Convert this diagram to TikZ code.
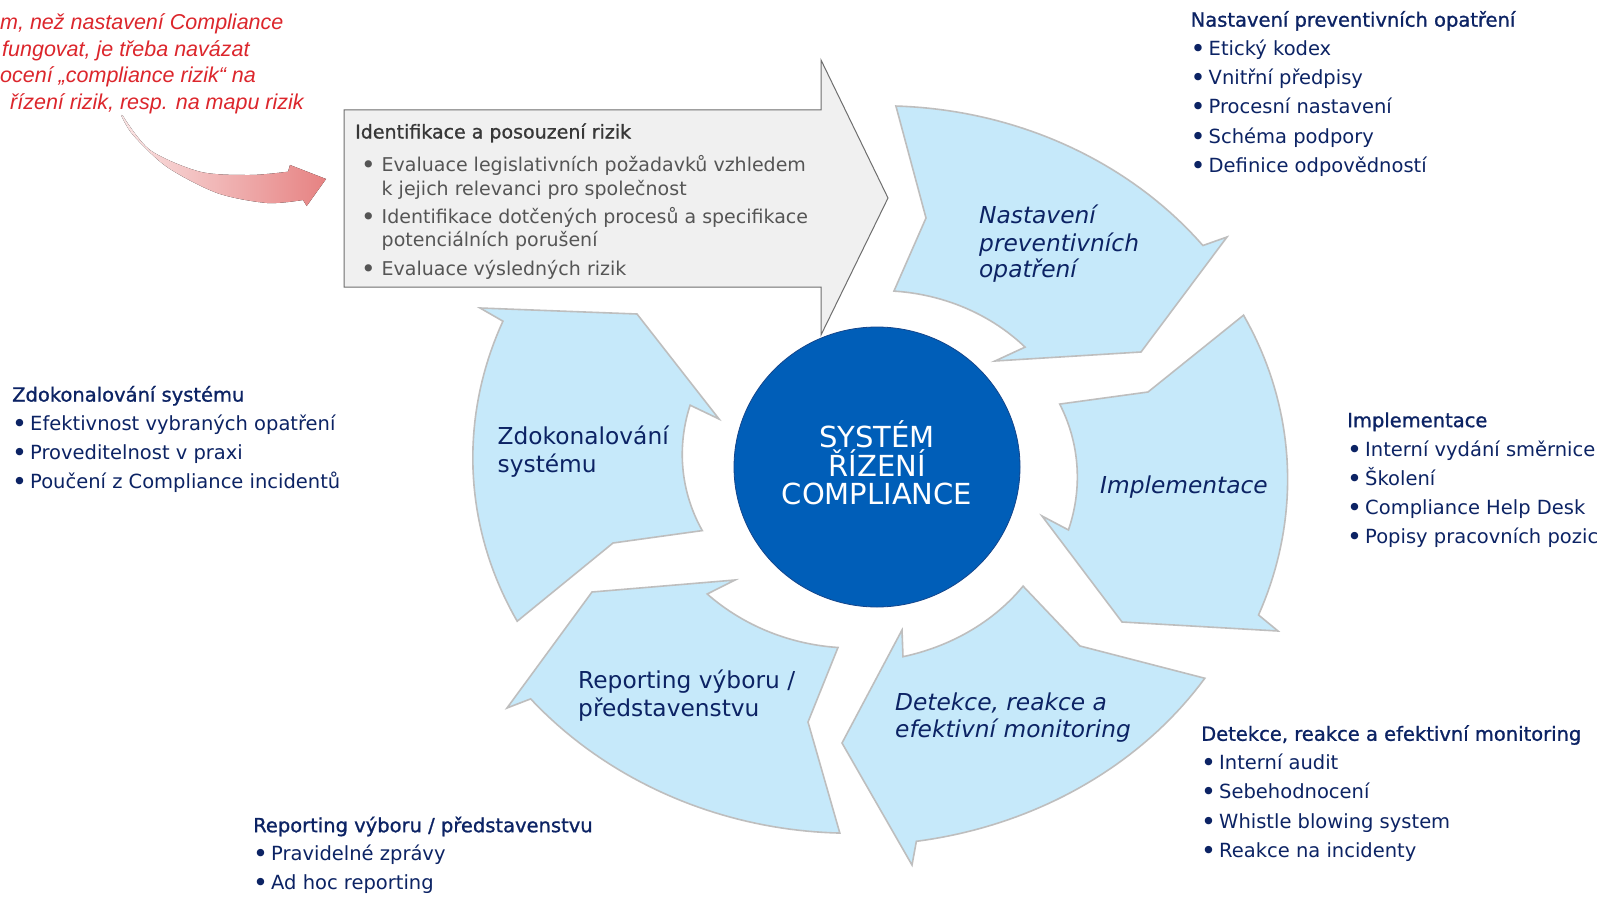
\documentclass[tikz,border=0pt]{standalone}
\usepackage{fontspec}
\setmainfont{DejaVu Sans}
\newfontfamily\headfont[FakeBold=1]{DejaVu Sans}
\newfontfamily\notefont{Liberation Sans}
\usepackage{tikz}
\usetikzlibrary{positioning,shapes.geometric}

\definecolor{navy}{RGB}{12,35,100}
\definecolor{wheelfill}{RGB}{198,233,250}
\definecolor{wheeledge}{RGB}{190,190,190}
\definecolor{coreblue}{RGB}{0,94,184}
\definecolor{coreedge}{RGB}{20,70,140}
\definecolor{boxfill}{RGB}{240,240,240}
\definecolor{boxedge}{RGB}{110,110,110}
\definecolor{boxtext}{RGB}{85,85,85}
\definecolor{boxhead}{RGB}{55,55,55}
\definecolor{notered}{RGB}{220,38,44}

\newcommand{\blt}{\makebox[18pt][l]{\raisebox{-2pt}{\scalebox{1.3}{\textbullet}}}}
\newcommand{\gblt}{\hspace*{6pt}\makebox[20.5pt][l]{\raisebox{-2pt}{\scalebox{1.3}{\textbullet}}}}
\newcommand{\gcont}{\hspace*{26.5pt}}

\tikzset{
  rimout/.style n args={4}{insert path={plot[domain=#1:#2,samples=40]
      ({877+rout(\x)*blend(\x,#1,#2,#3,#4)*cos(\x)},{467-rout(\x)*blend(\x,#1,#2,#3,#4)*sin(\x)})}},
  rimin/.style n args={4}{insert path={-- plot[domain=#1:#2,samples=40]
      ({877+rin(\x)*blend(\x,#1,#2,#3,#4)*cos(\x)},{467-rin(\x)*blend(\x,#1,#2,#3,#4)*sin(\x)})}}
}

\begin{document}
\begin{tikzpicture}[x=1pt,y=-1pt,line join=miter,
    declare function={
      rout(\x)=410*3.65/sqrt((3.65*cos(\x))^2+(4.10*sin(\x))^2);
      rin(\x)=204*1.82/sqrt((1.82*cos(\x))^2+(2.04*sin(\x))^2);
      blend(\x,\angA,\angB,\facA,\facB)=\facA+(\facB-\facA)*(\x-\angA)/(\angB-\angA);
    }]
    \tikzstyle{cyc}=[fill=wheelfill,draw=wheeledge,line width=1.6pt]
    \tikzstyle{riskarrow}=[fill=boxfill,draw=boxedge,line width=1pt]
    \tikzstyle{core}=[ellipse,minimum width=286pt,minimum height=280pt,inner sep=0pt,fill=coreblue,draw=coreedge,line width=0.8pt]
    \tikzstyle{list}=[inner sep=0pt,anchor=north west,align=left,text=navy,font=\fontsize{19.5}{29.1}\selectfont]
    \tikzstyle{lbl}=[inner sep=0pt,anchor=north west,align=left,text=navy,font=\fontsize{23.3}{26}\selectfont]
    \tikzstyle{ilbl}=[lbl,font=\fontsize{23.3}{26}\selectfont\itshape]
    \tikzstyle{redgrad}=[left color={rgb,255:red,250;green,228;blue,228},right color={rgb,255:red,230;green,130;blue,130}]

    \fill[white] (0,0) rectangle (1602,896);
    \useasboundingbox (0,0) rectangle (1602,896);

    % wheel of five arrows
    \draw[cyc] [rimout={87}{34.2}{0.99}{1.0}] -- (1227,237) -- (1141,352) -- (995,361)
        [rimin={39}{84.5}{0.98}{0.97}] -- (926,218) -- cycle;
    \draw[cyc] [rimout={22.5}{-21.2}{0.986}{1.015}] -- (1278,631) -- (1122,622) -- (1042,516)
        [rimin={-18.2}{19}{1.0}{0.96}] -- (1148,392) -- cycle;
    \draw[cyc] [rimout={-32.8}{-84}{0.987}{1.03}] -- (912,865) -- (842,743) -- (902,630)
        [rimin={-82.2}{-39.2}{1.05}{0.97}] -- (1080,646) -- cycle;
    \draw[cyc] [rimout={-95.8}{-146.2}{1.007}{1.057}] -- (507,708) -- (592,592) -- (735,580)
        [rimin={-143.2}{-102.2}{1.086}{1.01}] -- (808,722) -- cycle;
    \draw[cyc] [rimout={203.2}{158.7}{0.974}{0.996}] -- (480,308) -- (637,314) -- (719,419)
        [rimin={161.7}{200}{0.977}{0.925}] -- (613,543) -- cycle;

    % risk assessment arrow
    \draw[riskarrow] (344,110) -- (821,110) -- (821,60) -- (888,198) -- (821,335)
        -- (821,287) -- (344,287) -- cycle;
    \node[inner sep=0pt,anchor=north west,align=left,text=boxtext,font=\fontsize{19}{23.3}\selectfont]
        (risk) at (355,122) {{\color{boxhead}\headfont\strut Identifikace a posouzení rizik}\\[10pt]
        \gblt Evaluace legislativních požadavků vzhledem\\
        \gcont k jejich relevanci pro společnost\\[5pt]
        \gblt Identifikace dotčených procesů a specifikace\\
        \gcont potenciálních porušení\\[5pt]
        \gblt Evaluace výsledných rizik};

    % core
    \node[core] (core) at (877,467) {};
    \node[inner sep=0pt,align=center,text=white,font=\fontsize{29}{28.3}\selectfont]
        (coretxt) at (877,463) {SYSTÉM\\ŘÍZENÍ\\COMPLIANCE};

    % labels in the wheel
    \node[ilbl] (prev) at (979,205.1) {\strut Nastavení\\preventivních\\opatření};
    \node[ilbl] (impl) at (1100,475.1) {\strut Implementace};
    \node[ilbl,font=\fontsize{23.3}{26.7}\selectfont\itshape] (detect) at (895,691.8) {\strut Detekce, reakce a\\efektivní monitoring};
    \node[lbl,font=\fontsize{23.3}{25}\selectfont] (report) at (578,670.1) {\strut Reporting výboru /\\představenstvu};
    \node[lbl,font=\fontsize{23.3}{26}\selectfont] (improve) at (497.5,425.8) {\strut Zdokonalování\\systému};

    % lists around
    \node[list] (prevlist) at (1190.5,6.1) {{\headfont\strut Nastavení preventivních opatření}\\
        \blt Etický kodex\\
        \blt Vnitřní předpisy\\
        \blt Procesní nastavení\\
        \blt Schéma podpory\\
        \blt Definice odpovědností};
    \node[list] (impllist) at (1347,406.6) {{\headfont\strut Implementace}\\
        \blt Interní vydání směrnice\\
        \blt Školení\\
        \blt Compliance Help Desk\\
        \blt Popisy pracovních pozic};
    \node[list] (detectlist) at (1201,720.2) {{\headfont\strut Detekce, reakce a efektivní monitoring}\\
        \blt Interní audit\\
        \blt Sebehodnocení\\
        \blt Whistle blowing system\\
        \blt Reakce na incidenty};
    \node[list,font=\fontsize{19.5}{28.6}\selectfont] (reportlist) at (253,812) {{\headfont\strut Reporting výboru / představenstvu}\\
        \blt Pravidelné zprávy\\
        \blt Ad hoc reporting};
    \node[list] (improvelist) at (12,381) {{\headfont\strut Zdokonalování systému}\\
        \blt Efektivnost vybraných opatření\\
        \blt Proveditelnost v praxi\\
        \blt Poučení z Compliance incidentů};

    % red note and its arrow
    \node[inner sep=0pt,anchor=north west,align=left,text=notered,
        font=\notefont\itshape\fontsize{21.5}{26.6}\selectfont]
        (note) at (0,10.7) {\strut m, než nastavení Compliance\\
        \hspace*{2pt}fungovat, je třeba navázat\\
        ocení „compliance rizik“ na\\
        \hspace*{10pt}řízení rizik, resp. na mapu rizik};
    \coordinate (redtail) at (121,115);
    \coordinate (redtip) at (326,179);
    \fill[redgrad] plot[smooth] coordinates {(redtail) (133,135) (167,167) (217,193) (267,203) (303,200)}
        -- (306.7,206) -- (redtip) -- (290,165)
        -- plot[smooth] coordinates {(288,171.7) (250,175) (200,171.7) (150,150) (123,116)} -- cycle;
\end{tikzpicture}
\end{document}
